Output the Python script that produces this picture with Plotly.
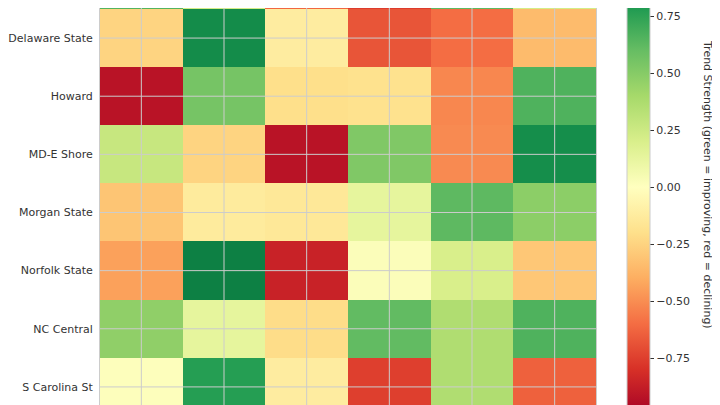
import plotly.graph_objects as go

schools = ["Coppin State", "Delaware State", "Howard", "MD-E Shore", "Morgan State",
           "Norfolk State", "NC Central", "S Carolina St"]
periods = ["2019", "2020", "2021", "2022", "2023", "2024"]

trend = [
    [0.65, 0.22, -0.62, -0.76, 0.62, 0.22],
    [-0.25, 0.85, -0.12, -0.68, -0.60, -0.35],
    [-0.92, 0.55, -0.20, -0.19, -0.52, 0.66],
    [0.27, -0.25, -0.92, 0.52, -0.51, 0.84],
    [-0.31, -0.13, -0.15, 0.13, 0.62, 0.48],
    [-0.44, 0.90, -0.86, 0.02, 0.20, -0.30],
    [0.47, 0.13, -0.21, 0.61, 0.36, 0.66],
    [0.01, 0.77, -0.12, -0.75, 0.36, -0.64],
]

cbar_ticks = [-0.75, -0.5, -0.25, 0.0, 0.25, 0.5, 0.75]
cbar_text = [f"{v:.2f}".replace("-", "\u2212") for v in cbar_ticks]

FONT = "DejaVu Sans"
TXT = "#333333"
GRID = "#cccccc"

# page body adds an 8px offset; layout is in figure pixels
OFF = 8
W, H = 720, 405
PL, PR = 100 - OFF, 596 - OFF
PW = PR - PL
ROW = 58.14
y_top = 0.5 - 1 / ROW
y_bot = y_top + H / ROW

fig = go.Figure(go.Heatmap(
    z=trend, x=periods, y=schools,
    colorscale="RdYlGn", zmin=-1, zmax=1,
    colorbar=dict(
        lenmode="pixels", len=456, thickness=23,
        x=(627 - OFF - PL) / PW, xanchor="left", xpad=0,
        y=1 - (187 - OFF) / H, yanchor="middle", ypad=0,
        outlinewidth=1, outlinecolor=GRID,
        tickvals=cbar_ticks, ticktext=cbar_text,
        ticks="outside", ticklen=4, tickcolor=TXT, tickwidth=1,
        ticklabeloverflow="allow",
        tickfont=dict(family=FONT, size=11, color=TXT),
    ),
))

shapes = []
for i, _ in enumerate(periods):
    shapes.append(dict(type="line", xref="x", yref="paper", x0=i, x1=i, y0=0, y1=1,
                       line=dict(color=GRID, width=1), layer="above"))
for j, _ in enumerate(schools):
    shapes.append(dict(type="line", xref="paper", yref="y", x0=0, x1=1, y0=j, y1=j,
                       line=dict(color=GRID, width=1), layer="above"))

fig.update_layout(
    width=W, height=H,
    margin=dict(l=PL, r=W - PR, t=0, b=0),
    paper_bgcolor="white", plot_bgcolor="white",
    font=dict(family=FONT, size=11, color=TXT),
    shapes=shapes,
    annotations=[dict(
        text="Trend Strength (green = improving, red = declining)",
        xref="paper", yref="paper", x=(708 - OFF - PL) / PW, y=1 - (184 - OFF) / H,
        xanchor="center", yanchor="middle", textangle=90, showarrow=False,
        font=dict(family=FONT, size=11, color=TXT),
    )],
    xaxis=dict(range=[-0.5, len(periods) - 0.5], showgrid=False, zeroline=False,
               showticklabels=False, ticks="", showline=False),
    yaxis=dict(range=[y_bot, y_top], showgrid=False, zeroline=False,
               ticks="outside", ticklen=4, tickcolor="rgba(0,0,0,0)",
               tickfont=dict(family=FONT, size=11, color=TXT),
               showline=True, mirror=True, linecolor=GRID, linewidth=1),
)

fig.write_html("out.html")
